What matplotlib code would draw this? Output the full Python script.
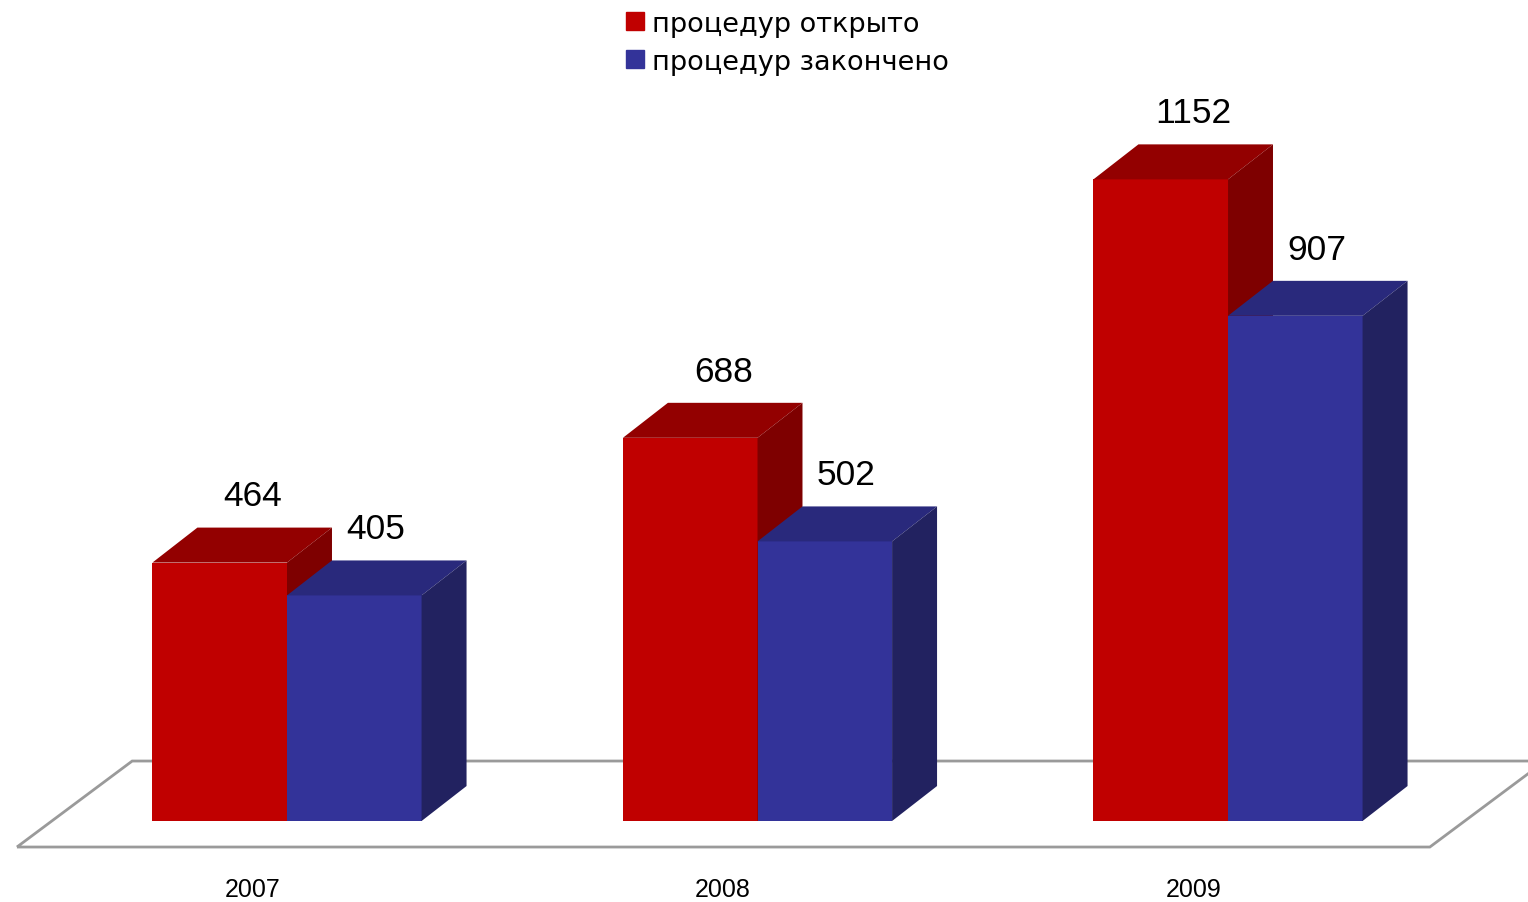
import matplotlib
matplotlib.use('Agg')
import matplotlib.pyplot as plt
from matplotlib.patches import Polygon
from matplotlib.lines import Line2D

# Data
years = ["2007", "2008", "2009"]
opened = [464, 688, 1152]
closed = [405, 502, 907]
series_names = ["процедур открыто", "процедур закончено"]

# Colours (front, top, side)
red = ("#c00000", "#930000", "#7e0000")
blue = ("#333399", "#29297c", "#222260")

W = 0.286      # bar width (group spacing = 1)
DX = 0.0956    # depth offset in x units
DY = 62.8      # depth offset in value units

fig = plt.figure(figsize=(15.28, 9.03), dpi=100)
ax = fig.add_axes([0, 0, 1, 1])
ax.set_xlim(-0.610, 2.6376)
ax.set_ylim(-145.4, 1475.8)
ax.axis('off')

# floor
fx0, fy0 = -0.574, -46.7
fdx, fdy = 0.245, 154.4
floor = [(fx0, fy0), (fx0 + fdx, fy0 + fdy), (2.429 + fdx, fy0 + fdy), (2.429, fy0)]
ax.add_patch(Polygon(floor, closed=True, fill=False, edgecolor="#9a9a9a", lw=2, zorder=1))


def draw_bar(x0, v, cols, z):
    x1 = x0 + W
    ax.bar(x0, v, width=W, align='edge', color=cols[0], zorder=z)
    top = [(x0, v), (x0 + DX, v + DY), (x1 + DX, v + DY), (x1, v)]
    side = [(x1, 0), (x1 + DX, DY), (x1 + DX, v + DY), (x1, v)]
    ax.add_patch(Polygon(top, closed=True, facecolor=cols[1], edgecolor='none', zorder=z))
    ax.add_patch(Polygon(side, closed=True, facecolor=cols[2], edgecolor='none', zorder=z))


for i, yr in enumerate(years):
    draw_bar(i - W, opened[i], red, 2 + i * 2)
    draw_bar(i, closed[i], blue, 3 + i * 2)
    ax.text(i - W / 2 + 0.07, opened[i] + DY + 57, str(opened[i]), ha='center', va='center',
            fontsize=25.5, family='Liberation Sans', zorder=10)
    ax.text(i + W / 2 + 0.045, closed[i] + DY + 57, str(closed[i]), ha='center', va='center',
            fontsize=25.5, family='Liberation Sans', zorder=10)
    ax.text(i - 0.074, -122, yr, ha='center', va='center', fontsize=18,
            family='Liberation Sans', zorder=10)

handles = [Line2D([], [], marker='s', ls='none', color=red[0], markersize=13),
           Line2D([], [], marker='s', ls='none', color=blue[0], markersize=13)]
leg = fig.legend(handles, series_names, loc='upper left', bbox_to_anchor=(0.391, 1.014),
                 frameon=False, handletextpad=0.1, handlelength=1.0, labelspacing=0.45,
                 prop={'family': 'DejaVu Sans', 'size': 19.5})

fig.savefig("out.png", dpi=100)
